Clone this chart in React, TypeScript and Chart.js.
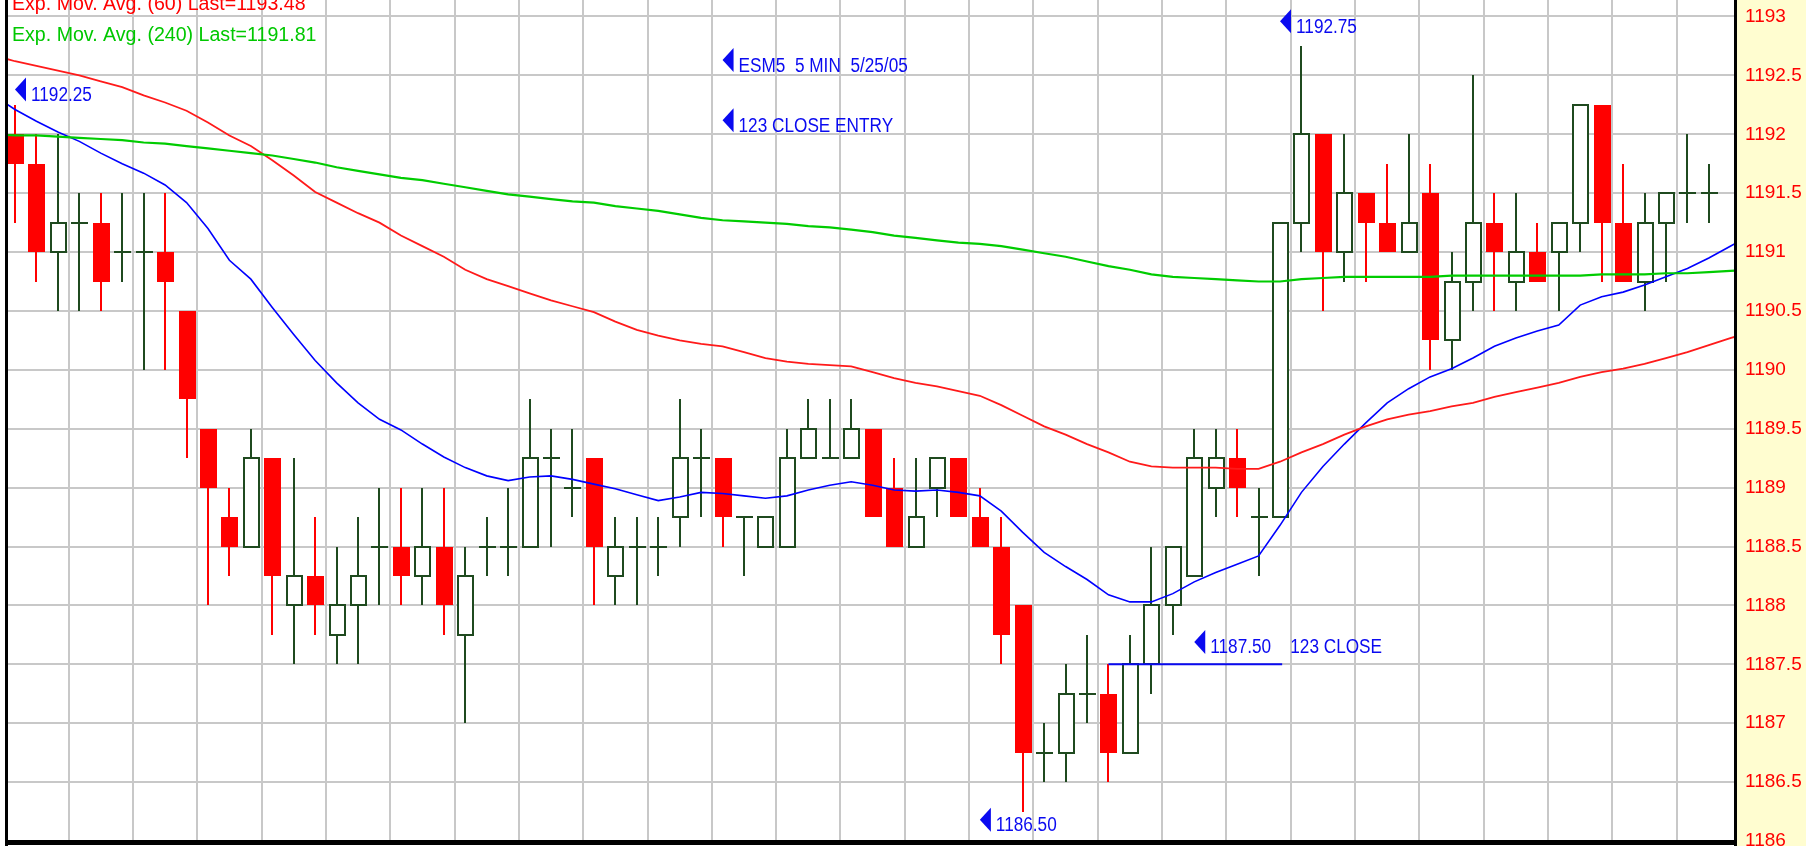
import React, { useEffect, useRef } from "react";
import { Chart, registerables } from "chart.js";

Chart.register(...registerables);

const FONT = "'Liberation Sans', Arial, Helvetica, sans-serif";

// ---- Candles (bar index 0..79), ESM5 5 min 5/25/05 ----
const opens = [
  1192, 1191.75, 1191, 1191.25, 1191.25, 1191, 1191, 1191, 1190.5, 1189.5,
  1188.75, 1188.5, 1189.25, 1188, 1188.25, 1187.75, 1188, 1188.5, 1188.5, 1188.25,
  1188.5, 1187.75, 1188.5, 1188.5, 1188.5, 1189.25, 1189, 1189.25, 1188.25, 1188.5,
  1188.5, 1188.75, 1189.25, 1189.25, 1188.75, 1188.5, 1188.5, 1189.25, 1189.25, 1189.25,
  1189.5, 1189, 1188.5, 1189, 1189.25, 1188.75, 1188.5, 1188, 1186.75, 1186.75,
  1187.25, 1187.25, 1186.75, 1187.5, 1188, 1188.25, 1189, 1189.25, 1188.75, 1188.75,
  1191.25, 1192, 1191, 1191.5, 1191.25, 1191, 1191.5, 1190.25, 1190.75, 1191.25,
  1190.75, 1191, 1191, 1191.25, 1192.25, 1191.25, 1190.75, 1191.25, 1191.5, 1191.5,
];
const highs = [
  1192.25, 1192, 1192, 1191.5, 1191.5, 1191.5, 1191.5, 1191.5, 1190.5, 1189.5,
  1189, 1189.5, 1189.25, 1189.25, 1188.75, 1188.5, 1188.75, 1189, 1189, 1189,
  1189, 1188.5, 1188.75, 1189, 1189.75, 1189.5, 1189.5, 1189.25, 1188.75, 1188.75,
  1188.75, 1189.75, 1189.5, 1189.25, 1188.75, 1188.75, 1189.5, 1189.75, 1189.75, 1189.75,
  1189.5, 1189.25, 1189.25, 1189.25, 1189.25, 1189, 1188.75, 1188, 1187, 1187.5,
  1187.75, 1187.5, 1187.75, 1188.5, 1188.5, 1189.5, 1189.5, 1189.5, 1189, 1191.25,
  1192.75, 1192, 1192, 1191.5, 1191.75, 1192, 1191.75, 1191, 1192.5, 1191.5,
  1191.5, 1191.25, 1191.25, 1192.25, 1192.25, 1191.75, 1191.5, 1191.5, 1192, 1191.75,
];
const lows = [
  1191.25, 1190.75, 1190.5, 1190.5, 1190.5, 1190.75, 1190, 1190, 1189.25, 1188,
  1188.25, 1188.5, 1187.75, 1187.5, 1187.75, 1187.5, 1187.5, 1188, 1188, 1188,
  1187.75, 1187, 1188.25, 1188.25, 1188.5, 1188.5, 1188.75, 1188, 1188, 1188,
  1188.25, 1188.5, 1188.75, 1188.5, 1188.25, 1188.5, 1188.5, 1189.25, 1189.25, 1189.25,
  1188.75, 1188.5, 1188.5, 1188.75, 1188.75, 1188.5, 1187.5, 1186.25, 1186.5, 1186.5,
  1187, 1186.5, 1186.75, 1187.25, 1187.75, 1188.25, 1188.75, 1188.75, 1188.25, 1188.75,
  1191, 1190.5, 1190.75, 1190.75, 1191, 1191, 1190, 1190, 1190.5, 1190.5,
  1190.5, 1190.75, 1190.5, 1191, 1190.75, 1190.75, 1190.5, 1190.75, 1191.25, 1191.25,
];
const closes = [
  1191.75, 1191, 1191.25, 1191.25, 1190.75, 1191, 1191, 1190.75, 1189.75, 1189,
  1188.5, 1189.25, 1188.25, 1188.25, 1188, 1188, 1188.25, 1188.5, 1188.25, 1188.5,
  1188, 1188.25, 1188.5, 1188.5, 1189.25, 1189.25, 1189, 1188.5, 1188.5, 1188.5,
  1188.5, 1189.25, 1189.25, 1188.75, 1188.75, 1188.75, 1189.25, 1189.5, 1189.25, 1189.5,
  1188.75, 1188.5, 1188.75, 1189.25, 1188.75, 1188.5, 1187.75, 1186.75, 1186.75, 1187.25,
  1187.25, 1186.75, 1187.5, 1188, 1188.5, 1189.25, 1189.25, 1189, 1188.75, 1191.25,
  1192, 1191, 1191.5, 1191.25, 1191, 1191.25, 1190.25, 1190.75, 1191.25, 1191,
  1191, 1190.75, 1191.25, 1192.25, 1191.25, 1190.75, 1191.25, 1191.5, 1191.5, 1191.5,
];

// ---- Exponential moving averages, sampled at bar index -1..81 ----
const emaBars = Array.from({ length: 83 }, (_, i) => i - 1);
const emaFast = [
  1192.33, 1192.21, 1192.11, 1192.02, 1191.94, 1191.84, 1191.75, 1191.67, 1191.57, 1191.42,
  1191.2, 1190.93, 1190.77, 1190.53, 1190.3, 1190.08, 1189.89, 1189.72, 1189.58, 1189.49,
  1189.37, 1189.26, 1189.17, 1189.1, 1189.06, 1189.09, 1189.1, 1189.07, 1189.03, 1188.99,
  1188.94, 1188.89, 1188.92, 1188.96, 1188.95, 1188.93, 1188.91, 1188.93, 1188.98, 1189.02,
  1189.05, 1189.02, 1188.98, 1188.97, 1188.98, 1188.96, 1188.93, 1188.8, 1188.62, 1188.45,
  1188.33, 1188.22, 1188.09, 1188.03, 1188.03, 1188.1, 1188.2, 1188.28, 1188.35, 1188.42,
  1188.68, 1188.96, 1189.18, 1189.37, 1189.55, 1189.72, 1189.84, 1189.94, 1190.01, 1190.1,
  1190.2, 1190.27, 1190.33, 1190.38, 1190.55, 1190.62, 1190.66, 1190.72, 1190.79, 1190.86,
  1190.95, 1191.05, 1191.15,
];
const ema60 = [
  1192.67, 1192.62, 1192.58, 1192.54, 1192.5, 1192.45, 1192.4, 1192.33, 1192.27, 1192.2,
  1192.1, 1191.99, 1191.9, 1191.78, 1191.65, 1191.51, 1191.42, 1191.33, 1191.25, 1191.14,
  1191.05, 1190.96, 1190.85, 1190.77, 1190.71, 1190.65, 1190.59, 1190.54, 1190.49, 1190.41,
  1190.34, 1190.29, 1190.25, 1190.22, 1190.2, 1190.15, 1190.1, 1190.07, 1190.05, 1190.04,
  1190.03, 1189.98, 1189.93, 1189.89, 1189.86, 1189.82, 1189.78, 1189.7, 1189.61, 1189.52,
  1189.45, 1189.37, 1189.3, 1189.22, 1189.18, 1189.17, 1189.17, 1189.17, 1189.16, 1189.16,
  1189.22, 1189.3, 1189.37, 1189.45, 1189.52, 1189.58, 1189.62, 1189.65, 1189.69, 1189.72,
  1189.77, 1189.81, 1189.85, 1189.89, 1189.94, 1189.98, 1190.01, 1190.05, 1190.1, 1190.15,
  1190.21, 1190.27, 1190.32,
];
const ema240 = [
  1192.0, 1191.99, 1191.99, 1191.98, 1191.97, 1191.96, 1191.95, 1191.93, 1191.92, 1191.9,
  1191.88, 1191.86, 1191.84, 1191.82, 1191.79, 1191.76, 1191.72, 1191.69, 1191.66, 1191.63,
  1191.61, 1191.58, 1191.55, 1191.52, 1191.49, 1191.47, 1191.45, 1191.43, 1191.42, 1191.39,
  1191.37, 1191.35, 1191.32, 1191.29, 1191.27, 1191.26, 1191.25, 1191.24, 1191.22, 1191.21,
  1191.19, 1191.17, 1191.14, 1191.12, 1191.1, 1191.08, 1191.07, 1191.05, 1191.02, 1190.99,
  1190.96, 1190.92, 1190.88, 1190.85, 1190.81, 1190.79, 1190.78, 1190.77, 1190.76, 1190.75,
  1190.75, 1190.77, 1190.78, 1190.79, 1190.79, 1190.79, 1190.79, 1190.79, 1190.8, 1190.8,
  1190.8, 1190.8, 1190.8, 1190.8, 1190.8, 1190.81, 1190.81, 1190.81, 1190.82, 1190.82,
  1190.83, 1190.84, 1190.85,
];

// ---- "123 CLOSE" level line ----
const closeLineBars = [51, 59.1];
const closeLinePrice = 1187.5;

// ---- Text notes (arrow tip at bar / price) ----
const noteBars = [0, 33, 33, 59, 55, 45];
const notePrices = [1192.38, 1192.63, 1192.12, 1192.96, 1187.69, 1186.18];
const noteTexts = [
  "1192.25",
  "ESM5  5 MIN  5/25/05",
  "123 CLOSE ENTRY",
  "1192.75",
  "1187.50    123 CLOSE",
  "1186.50",
];

// ---- Legend lines (top-left) ----
const legendTexts = [
  "Exp. Mov. Avg. (60) Last=1193.48",
  "Exp. Mov. Avg. (240) Last=1191.81",
];

// ---- Axis ticks ----
const xGridBars = [
  2.5, 5.5, 8.5, 11.5, 14.5, 17.5, 20.5, 23.5, 26.5, 29.5, 32.5, 35.5, 38.5,
  41.5, 44.5, 47.5, 50.5, 53.5, 56.5, 59.5, 62.5, 65.5, 68.5, 71.5, 74.5, 77.5,
];
const yMin = 1186;
const yMax = 1193.14;
const yStep = 0.5;

const UP = "#1f4a1f";
const DOWN = "#ff0000";
const BLUE = "#0a0af0";
const GRID = "#c8c8c8";
const PANEL = "#fffdd0";

const chartPlugin = {
  id: "esmCandles",
  beforeDraw(chart: any) {
    const { ctx, chartArea: a, width, height } = chart;
    ctx.save();
    ctx.fillStyle = "#ffffff";
    ctx.fillRect(0, 0, width, height);
    ctx.fillStyle = PANEL;
    ctx.fillRect(a.right, 0, width - a.right, height);
    ctx.restore();
  },
  beforeDatasetsDraw(chart: any) {
    const { ctx, chartArea: a } = chart;
    const xs = chart.scales.x;
    const ys = chart.scales.y;
    const step = xs.getPixelForValue(1) - xs.getPixelForValue(0);
    const bw = Math.round(step * 0.79);
    ctx.save();
    ctx.beginPath();
    ctx.rect(a.left, a.top, a.right - a.left, a.bottom - a.top);
    ctx.clip();
    for (let i = 0; i < opens.length; i++) {
      const cx = Math.round(xs.getPixelForValue(i));
      const yo = Math.round(ys.getPixelForValue(opens[i]));
      const yc = Math.round(ys.getPixelForValue(closes[i]));
      const yh = Math.round(ys.getPixelForValue(highs[i]));
      const yl = Math.round(ys.getPixelForValue(lows[i]));
      const left = Math.round(cx - bw / 2);
      const top = Math.min(yo, yc);
      const bot = Math.max(yo, yc);
      if (closes[i] < opens[i]) {
        ctx.fillStyle = DOWN;
        ctx.fillRect(cx - 1, yh, 2, yl - yh);
        ctx.fillRect(left, top, bw, bot - top);
      } else if (closes[i] > opens[i]) {
        ctx.fillStyle = UP;
        ctx.fillRect(cx - 1, yh, 2, yl - yh);
        ctx.fillStyle = "#ffffff";
        ctx.fillRect(left, top, bw, bot - top);
        ctx.fillStyle = UP;
        ctx.fillRect(left, top - 1, bw, 2);
        ctx.fillRect(left, bot - 1, bw, 2);
        ctx.fillRect(left, top - 1, 2, bot - top + 2);
        ctx.fillRect(left + bw - 2, top - 1, 2, bot - top + 2);
      } else {
        ctx.fillStyle = UP;
        ctx.fillRect(cx - 1, yh, 2, Math.max(yl - yh, 1));
        ctx.fillRect(left, yo - 1, bw, 2);
      }
    }
    ctx.restore();
  },
  afterDatasetsDraw(chart: any) {
    const { ctx } = chart;
    const xs = chart.scales.x;
    const ys = chart.scales.y;
    ctx.save();
    ctx.fillStyle = BLUE;
    ctx.font = `20px ${FONT}`;
    ctx.textBaseline = "alphabetic";
    ctx.textAlign = "left";
    for (let i = 0; i < noteTexts.length; i++) {
      const tx = xs.getPixelForValue(noteBars[i]);
      const ty = ys.getPixelForValue(notePrices[i]);
      ctx.beginPath();
      ctx.moveTo(tx, ty);
      ctx.lineTo(tx + 11, ty - 12);
      ctx.lineTo(tx + 11, ty + 12);
      ctx.closePath();
      ctx.fill();
      ctx.save();
      ctx.translate(tx + 16, ty + 11.5);
      ctx.scale(0.86, 1);
      ctx.fillText(noteTexts[i], 0, 0);
      ctx.restore();
    }
    ctx.restore();
  },
  afterDraw(chart: any) {
    const { ctx, chartArea: a, height } = chart;
    ctx.save();
    ctx.font = `19.6px ${FONT}`;
    ctx.textBaseline = "alphabetic";
    ctx.textAlign = "left";
    const legendColors = [DOWN, "#00c800"];
    for (let i = 0; i < legendTexts.length; i++) {
      ctx.fillStyle = legendColors[i];
      ctx.fillText(legendTexts[i], 12, 10 + i * 31);
    }
    ctx.fillStyle = "#000000";
    ctx.fillRect(5, 0, 3, height);
    ctx.fillRect(5, a.bottom - 1, a.right - 5, 5);
    ctx.fillRect(a.right - 1, 0, 3, height);
    ctx.restore();
  },
};

export default function App() {
  const ref = useRef<HTMLCanvasElement>(null);

  useEffect(() => {
    document.body.style.margin = "0";
    const canvas = ref.current;
    if (!canvas) return;
    const line = (vals: number[], color: string, w: number) => ({
      type: "line" as const,
      data: emaBars.map((b, i) => ({ x: b, y: vals[i] })),
      borderColor: color,
      borderWidth: w,
      pointRadius: 0,
      tension: 0,
      fill: false,
      clip: 0,
    });
    const chart = new Chart(canvas, {
      type: "line",
      data: {
        datasets: [
          line(ema240, "#00cc00", 2.2),
          line(ema60, "#ff1a1a", 1.8),
          line(emaFast, "#0000ff", 1.6),
          {
            type: "line",
            data: closeLineBars.map((b) => ({ x: b, y: closeLinePrice })),
            borderColor: BLUE,
            borderWidth: 2,
            pointRadius: 0,
            fill: false,
            clip: 0,
          },
        ],
      },
      options: {
        animation: false,
        responsive: false,
        events: [],
        layout: { padding: { left: 7, right: 0, top: 0, bottom: 5 } },
        plugins: { legend: { display: false }, tooltip: { enabled: false } },
        scales: {
          x: {
            type: "linear",
            min: -0.373,
            max: 80.22,
            afterBuildTicks: (s: any) => {
              s.ticks = xGridBars.map((v) => ({ value: v }));
            },
            afterFit: (s: any) => {
              s.height = 0;
              s.paddingLeft = 0;
              s.paddingRight = 0;
            },
            ticks: { display: false, autoSkip: false },
            grid: { color: GRID, lineWidth: 2, drawTicks: false },
            border: { display: false },
          },
          y: {
            type: "linear",
            position: "right",
            min: yMin,
            max: yMax,
            afterFit: (s: any) => {
              s.width = 71;
              s.paddingTop = 0;
              s.paddingBottom = 0;
            },
            ticks: {
              stepSize: yStep,
              includeBounds: false,
              autoSkip: false,
              padding: 10,
              color: "#ff0000",
              font: { family: FONT, size: 19 },
              callback: (v: any) => String(v),
            },
            grid: { color: GRID, lineWidth: 2, drawTicks: false },
            border: { display: false },
          },
        },
      },
      plugins: [chartPlugin],
    });
    return () => chart.destroy();
  }, []);

  return (
    <div style={{ width: 1806, height: 846 }}>
      <canvas ref={ref} width={1806} height={846} style={{ display: "block" }} />
    </div>
  );
}
